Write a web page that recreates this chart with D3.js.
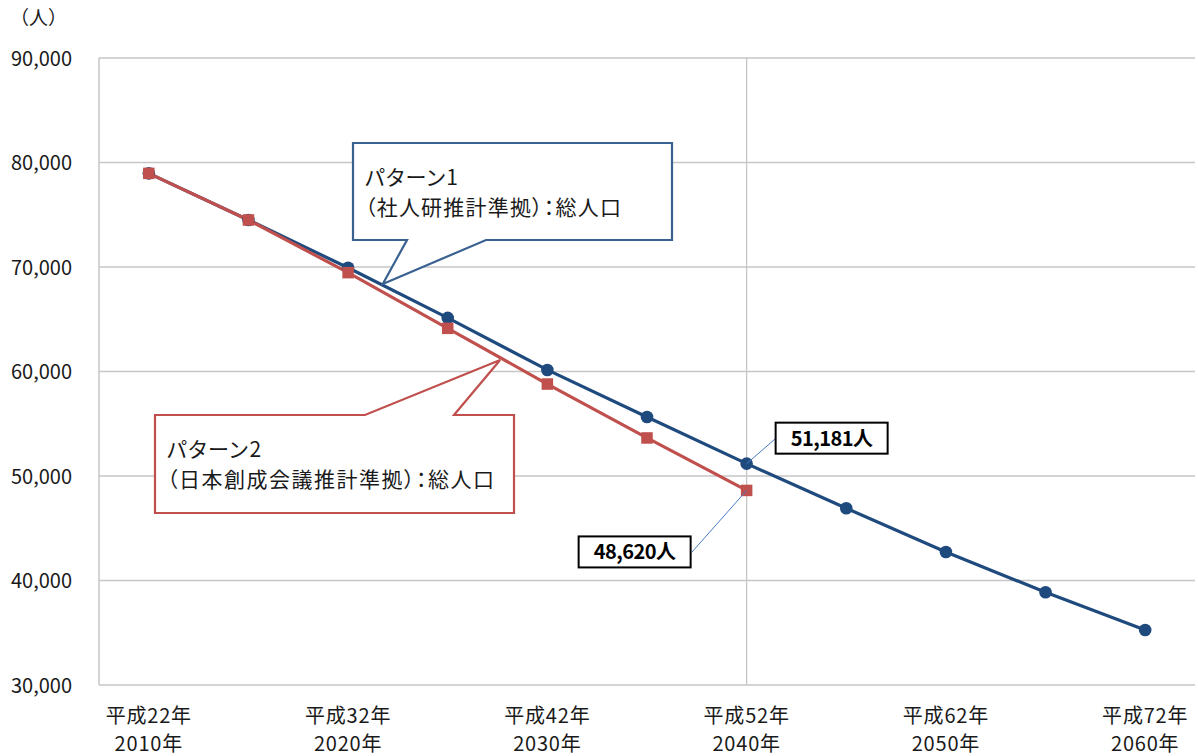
<!DOCTYPE html>
<html lang="ja">
<head>
<meta charset="utf-8">
<script src="https://cdn.jsdelivr.net/npm/d3@7"></script>
<style>
  html, body { margin: 0; padding: 0; background: #fff; }
  svg { display: block; }
  text { font-family: "Noto Sans CJK JP", "Noto Sans", sans-serif; }
  .palt { font-feature-settings: "palt" 1; }
</style>
</head>
<body>
<svg id="chart" width="1198" height="756"></svg>
<script>
// 年次（5年刻み）
const years = [2010, 2015, 2020, 2025, 2030, 2035, 2040, 2045, 2050, 2055, 2060];
// 軸ラベル（10年ごと）
const yearLabels = [
  { year: 2010, wareki: "平成22年", seireki: "2010年" },
  { year: 2020, wareki: "平成32年", seireki: "2020年" },
  { year: 2030, wareki: "平成42年", seireki: "2030年" },
  { year: 2040, wareki: "平成52年", seireki: "2040年" },
  { year: 2050, wareki: "平成62年", seireki: "2050年" },
  { year: 2060, wareki: "平成72年", seireki: "2060年" }
];
// パターン1（社人研推計準拠）
const pattern1 = [78960, 74500, 69930, 65130, 60150, 55650, 51181, 46910, 42730, 38870, 35260];
// パターン2（日本創成会議推計準拠）
const pattern2 = [78960, 74500, 69460, 64130, 58800, 53640, 48620];
// 縦軸目盛
const yTicks = [30000, 40000, 50000, 60000, 70000, 80000, 90000];

const svg = d3.select("#chart");
const plot = { left: 99, right: 1195, top: 58, bottom: 685 };

const x = d3.scaleBand().domain(years).range([plot.left, plot.right]).padding(0);
const cx = yr => x(yr) + x.bandwidth() / 2;
const xYear = d3.scaleLinear().domain([2010, 2060]).range([cx(2010), cx(2060)]);
const y = d3.scaleLinear().domain([30000, 90000]).range([plot.bottom, plot.top]);

const gridColor = "#c6c6c6";
const blue = "#1f4a7e";
const red = "#c0504d";
const textColor = "#1a1a1a";

// 横グリッド線
svg.append("g").selectAll("line").data(yTicks.filter(t => t > 30000)).join("line")
  .attr("x1", plot.left).attr("x2", plot.right)
  .attr("y1", d => y(d)).attr("y2", d => y(d))
  .attr("stroke", gridColor).attr("stroke-width", 1.3);

// 2040年の縦線
svg.append("line")
  .attr("x1", cx(2040)).attr("x2", cx(2040))
  .attr("y1", plot.top).attr("y2", plot.bottom)
  .attr("stroke", gridColor).attr("stroke-width", 1.3);

// 軸線
svg.append("line").attr("x1", plot.left).attr("x2", plot.left)
  .attr("y1", plot.top).attr("y2", plot.bottom)
  .attr("stroke", gridColor).attr("stroke-width", 1.5);
svg.append("line").attr("x1", plot.left).attr("x2", plot.right)
  .attr("y1", plot.bottom).attr("y2", plot.bottom)
  .attr("stroke", gridColor).attr("stroke-width", 1.5);

// 縦軸ラベル
const yAxis = d3.axisLeft(y).tickValues(yTicks).tickSize(0).tickPadding(0)
  .tickFormat(d3.format(","));
svg.append("g").attr("transform", `translate(72,0)`).call(yAxis)
  .call(g => g.select(".domain").remove())
  .call(g => g.selectAll("text")
    .attr("font-family", "'Noto Sans', sans-serif")
    .attr("font-size", 20).attr("fill", textColor).attr("dy", "0.35em"));

// 単位
svg.append("text").attr("x", 10).attr("y", 25)
  .attr("font-size", 19).attr("fill", textColor).text("（人）");

// 横軸ラベル
const xl = svg.append("g").selectAll("g").data(yearLabels).join("g")
  .attr("transform", d => `translate(${cx(d.year)},0)`);
xl.append("text").attr("y", 723).attr("text-anchor", "middle")
  .attr("font-size", 20).attr("letter-spacing", "0.8px")
  .attr("fill", textColor).text(d => d.wareki);
xl.append("text").attr("y", 751).attr("text-anchor", "middle")
  .attr("font-size", 20).attr("letter-spacing", "0.8px")
  .attr("fill", textColor).text(d => d.seireki);

// 系列線
const line = d3.line().x((d, i) => cx(years[i])).y(d => y(d));
svg.append("path").datum(pattern1).attr("d", line)
  .attr("fill", "none").attr("stroke", blue).attr("stroke-width", 3.2);
svg.append("path").datum(pattern2).attr("d", line)
  .attr("fill", "none").attr("stroke", red).attr("stroke-width", 3.2);

// マーカー
svg.append("g").selectAll("circle").data(pattern1).join("circle")
  .attr("cx", (d, i) => cx(years[i])).attr("cy", d => y(d)).attr("r", 6.3)
  .attr("fill", blue);
const sq = 11.5;
svg.append("g").selectAll("rect").data(pattern2).join("rect")
  .attr("x", (d, i) => cx(years[i]) - sq / 2).attr("y", d => y(d) - sq / 2)
  .attr("width", sq).attr("height", sq).attr("fill", red);

// 吹き出し
function callout(box, pointerBottom, tip, base1, base2, color, lines, spacing) {
  const [bx, by, bw, bh] = box;
  const t = [xYear(tip[0]), y(tip[1])];
  let path;
  if (pointerBottom) {
    path = [[bx, by], [bx + bw, by], [bx + bw, by + bh], [base2, by + bh], t,
            [base1, by + bh], [bx, by + bh]];
  } else {
    path = [[bx, by], [base1, by], t, [base2, by], [bx + bw, by],
            [bx + bw, by + bh], [bx, by + bh]];
  }
  svg.append("path")
    .attr("d", d3.line()(path) + "Z")
    .attr("fill", "#fff").attr("stroke", color).attr("stroke-width", 2.2)
    .attr("stroke-linejoin", "miter");
  const tx = svg.append("text").attr("class", "palt")
    .attr("font-size", 21).attr("fill", textColor).attr("letter-spacing", spacing + "px");
  lines.forEach((s, i) => {
    tx.append("tspan").attr("x", bx + 12).attr("y", by + 42 + i * 30).text(s);
  });
}

callout([353, 143, 319, 97], true, [2021.74, 68370], 407, 486, "#3a6291",
  ["パターン1", "（社人研推計準拠）：総人口"], 1.2);

callout([155, 415, 359, 98], false, [2027.63, 61100], 365, 454, red,
  ["パターン2", "（日本創成会議推計準拠）：総人口"], 1.5);

// データラベル
const fmt = d3.format(",");
function dataLabel(yr, v, bx, by, lx, ly) {
  const px = cx(yr), py = y(v);
  svg.append("line").attr("x1", px).attr("y1", py).attr("x2", lx).attr("y2", ly)
    .attr("stroke", "#4a7cc4").attr("stroke-width", 1);
  svg.append("rect").attr("x", bx).attr("y", by).attr("width", 112).attr("height", 31)
    .attr("fill", "#fff").attr("stroke", "#000").attr("stroke-width", 2);
  svg.append("text").attr("x", bx + 56).attr("y", by + 23).attr("text-anchor", "middle")
    .attr("font-size", 20).attr("font-weight", "bold").attr("fill", "#000")
    .attr("letter-spacing", "-0.5px")
    .text(fmt(v) + "人");
}
dataLabel(2040, pattern1[6], cx(2040) + 29, y(pattern1[6]) - 41, cx(2040) + 30, y(pattern1[6]) - 26);
dataLabel(2040, pattern2[6], cx(2040) - 168, y(pattern2[6]) + 46, cx(2040) - 55, y(pattern2[6]) + 62);
</script>
</body>
</html>
